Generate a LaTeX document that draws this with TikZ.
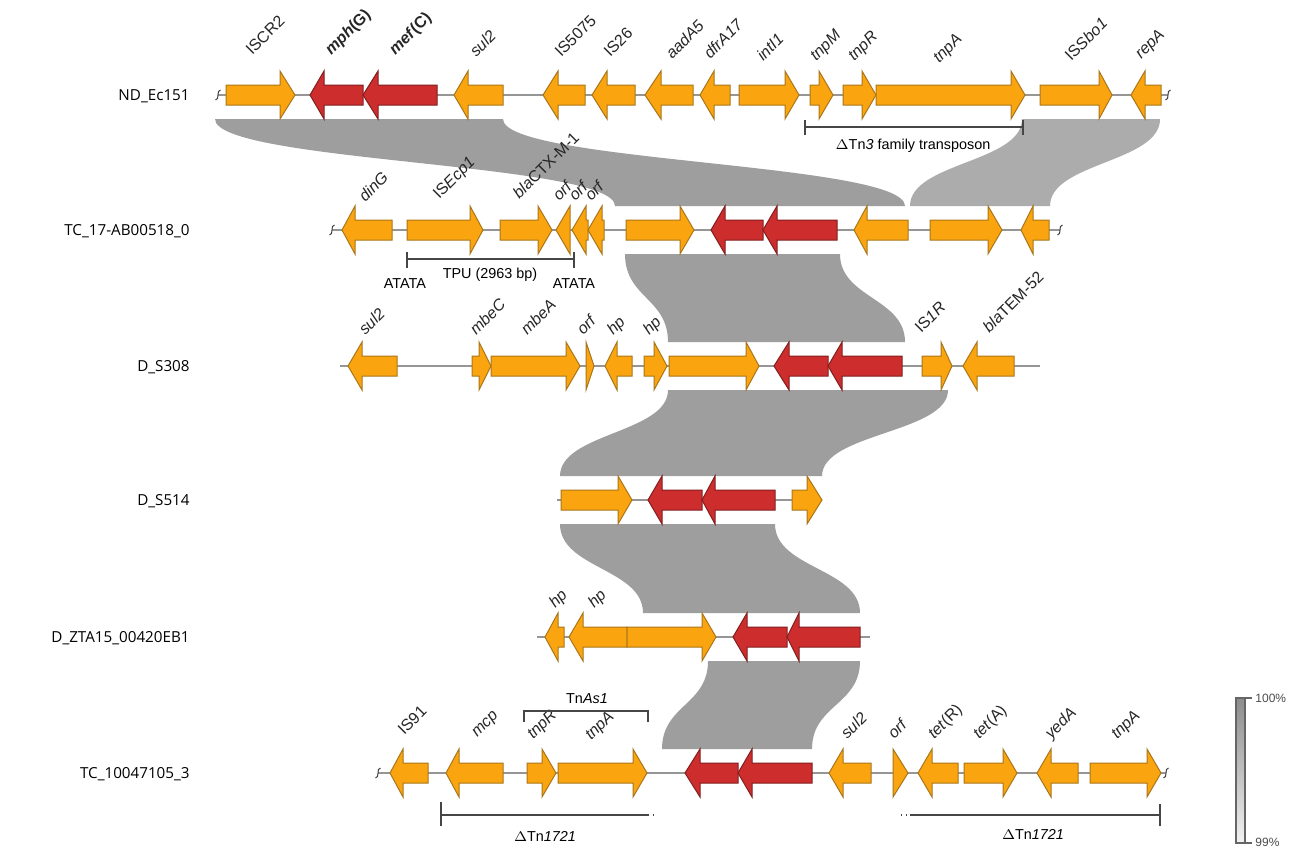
\documentclass[tikz,border=0pt]{standalone}
\usepackage{fontspec}
\setmainfont{Liberation Sans}
\newfontfamily\rowfont{Open Sans}
\definecolor{orng}{RGB}{250,165,15}
\definecolor{orngd}{RGB}{170,118,25}
\definecolor{rd}{RGB}{205,45,45}
\definecolor{rdd}{RGB}{130,30,30}
\definecolor{bandc}{RGB}{158,158,158}
\definecolor{bandl}{RGB}{172,172,172}
\definecolor{bb}{RGB}{150,150,150}
\definecolor{brk}{RGB}{70,70,70}
\newcommand{\gene}[5]{\draw[#1] (#2,#5-10) -- (#3,#5-10) -- (#3,#5-24) -- (#4,#5) -- (#3,#5+24) -- (#3,#5+10) -- (#2,#5+10) -- cycle;}
\newcommand{\gband}[7]{\fill[#1] (#2,#4) .. controls (#2,{(#4+#7)/2}) and (#5,{(#4+#7)/2}) .. (#5,#7) -- (#6,#7) .. controls (#6,{(#4+#7)/2}) and (#3,{(#4+#7)/2}) .. (#3,#4) -- cycle;}
\newcommand{\sq}[2]{\draw[black!75, line width=0.5pt] (#1-2.5,#2+5) .. controls (#1+2,#2+5) and (#1-2,#2-5) .. (#1+2.5,#2-5);}
\tikzset{
  og/.style={fill=orng, draw=orngd, line width=0.5pt, line join=miter},
  rg/.style={fill=rd, draw=rdd, line width=0.5pt, line join=miter},
  backbone/.style={draw=bb, line width=0.8pt},
  glabel/.style={rotate=45, anchor=base west, inner sep=0pt, text=black!85, font=\fontsize{8}{9}\selectfont},
  rowlab/.style={anchor=east, inner sep=0pt, font=\rowfont\fontsize{7.6}{9}\selectfont},
  brkt/.style={draw=brk, line width=0.6pt},
  btext/.style={inner sep=0pt, font=\fontsize{7.2}{8.5}\selectfont}
}
\begin{document}
\begin{tikzpicture}[x=0.5pt, y=-0.5pt]
\useasboundingbox (0,0) rectangle (1290,851);
\fill[white] (0,0) rectangle (1290,851);

% ---- bands ----
\gband{bandc}{215}{503}{119}{615}{905}{206}
\gband{bandl}{1022}{1160}{119}{910}{1050}{206}
\gband{bandc}{625}{840}{254}{668}{905}{342}
\gband{bandc}{668}{948}{390}{560}{822}{476}
\gband{bandc}{560}{775}{524}{643}{860}{613}
\gband{bandc}{708}{860}{661}{662}{812}{749}

% ---- row labels ----
\node[rowlab] (l1) at (190,96) {ND\_Ec151};
\node[rowlab] (l2) at (190,231) {TC\_17-AB00518\_0};
\node[rowlab] (l3) at (190,367) {D\_S308};
\node[rowlab] (l4) at (190,501) {D\_S514};
\node[rowlab] (l5) at (190,638) {D\_ZTA15\_00420EB1};
\node[rowlab] (l6) at (190,774) {TC\_10047105\_3};

% ---- row 1 ----
\draw[backbone] (218,95) -- (1168,95);
\sq{218}{95}\sq{1168}{95}
\gene{og}{226}{280}{295}{95}
\gene{rg}{363}{324}{310}{95}
\gene{rg}{437}{378}{363}{95}
\gene{og}{503}{468}{454}{95}
\gene{og}{585}{558}{543}{95}
\gene{og}{635}{607}{592}{95}
\gene{og}{693}{661}{645}{95}
\gene{og}{730}{714}{700}{95}
\gene{og}{739}{785}{799}{95}
\gene{og}{810}{819}{833}{95}
\gene{og}{843}{862}{876}{95}
\gene{og}{876}{1011}{1025}{95}
\gene{og}{1040}{1099}{1112}{95}
\gene{og}{1161}{1145}{1131}{95}
\node[glabel] (a1) at (252,56) {ISCR2};
\node[glabel] (a2) at (331,56) {\textbf{\textit{mph}(G)}};
\node[glabel] (a3) at (395,56) {\textbf{\textit{mef}(C)}};
\node[glabel] (a4) at (476,58) {\textit{sul2}};
\node[glabel] (a5) at (561,58) {IS5075};
\node[glabel] (a6) at (610,58) {IS26};
\node[glabel] (a7) at (672,60) {\textit{aadA5}};
\node[glabel] (a8) at (710,60) {\textit{dfrA17}};
\node[glabel] (a9) at (763,62) {\textit{intI1}};
\node[glabel] (a10) at (816,62) {\textit{tnpM}};
\node[glabel] (a11) at (854,62) {\textit{tnpR}};
\node[glabel] (a12) at (939,64) {\textit{tnpA}};
\node[glabel] (a13) at (1071,62) {IS\textit{Sbo1}};
\node[glabel] (a14) at (1141,60) {\textit{repA}};
\draw[brkt] (805,120) -- (805,135) (805,127) -- (1023,127) (1023,120) -- (1023,135);
\node[btext] (tn3) at (913,146) {$\Delta$Tn\textit{3} family transposon};

% ---- row 2 ----
\draw[backbone] (332,230) -- (1060,230);
\sq{332}{230}\sq{1060}{230}
\gene{og}{392}{355}{342}{230}
\gene{og}{407}{470}{483}{230}
\gene{og}{500}{538}{552}{230}
\gene{og}{570}{570}{556}{230}
\gene{og}{588}{586}{572}{230}
\gene{og}{604}{602}{588}{230}
\gene{og}{626}{680}{694}{230}
\gene{rg}{763}{725}{711}{230}
\gene{rg}{837}{777}{763}{230}
\gene{og}{908}{867}{854}{230}
\gene{og}{930}{988}{1002}{230}
\gene{og}{1049}{1033}{1021}{230}
\node[glabel] (b1) at (365,203) {\textit{dinG}};
\node[glabel] (b2) at (439,200) {IS\textit{Ecp1}};
\node[glabel] (b3) at (519,200) {\textit{bla}CTX-M-1};
\node[glabel] (b4) at (559,202) {\textit{orf}};
\node[glabel] (b5) at (575,202) {\textit{orf}};
\node[glabel] (b6) at (591,202) {\textit{orf}};
\draw[brkt] (407,252) -- (407,268) (407,259) -- (574,259) (574,252) -- (574,268);
\node[btext] (tpu) at (490,275) {TPU (2963 bp)};
\node[btext] (at1) at (405,284) {ATATA};
\node[btext] (at2) at (574,284) {ATATA};

% ---- row 3 ----
\draw[backbone] (340,366) -- (1040,366);
\gene{og}{397}{362}{348}{366}
\gene{og}{472}{479}{491}{366}
\gene{og}{491}{566}{580}{366}
\gene{og}{586}{586}{594}{366}
\gene{og}{632}{617}{605}{366}
\gene{og}{644}{654}{667}{366}
\gene{og}{669}{746}{759}{366}
\gene{rg}{828}{789}{774}{366}
\gene{rg}{902}{842}{828}{366}
\gene{og}{922}{941}{952}{366}
\gene{og}{1014}{977}{963}{366}
\node[glabel] (c1) at (365,336) {\textit{sul2}};
\node[glabel] (c2) at (476,336) {\textit{mbeC}};
\node[glabel] (c3) at (527,336) {\textit{mbeA}};
\node[glabel] (c4) at (583,336) {\textit{orf}};
\node[glabel] (c5) at (613,336) {\textit{hp}};
\node[glabel] (c6) at (649,336) {\textit{hp}};
\node[glabel] (c7) at (921,334) {IS\textit{1R}};
\node[glabel] (c8) at (989,334) {\textit{bla}TEM-52};

% ---- row 4 ----
\draw[backbone] (557,500) -- (822,500);
\gene{og}{561}{618}{632}{500}
\gene{rg}{702}{662}{648}{500}
\gene{rg}{775}{715}{702}{500}
\gene{og}{792}{807}{822}{500}

% ---- row 5 ----
\draw[backbone] (537,637) -- (870,637);
\gene{og}{564}{558}{545}{637}
\gene{og}{627}{583}{569}{637}
\gene{og}{627}{702}{716}{637}
\gene{rg}{787}{747}{733}{637}
\gene{rg}{860}{799}{787}{637}
\node[glabel] (d1) at (555,609) {\textit{hp}};
\node[glabel] (d2) at (594,609) {\textit{hp}};

% ---- row 6 ----
\draw[backbone] (378,773) -- (1166,773);
\sq{378}{773}\sq{1166}{773}
\gene{og}{428}{403}{390}{773}
\gene{og}{503}{459}{446}{773}
\gene{og}{527}{542}{556}{773}
\gene{og}{558}{633}{647}{773}
\gene{rg}{738}{700}{685}{773}
\gene{rg}{812}{752}{738}{773}
\gene{og}{871}{843}{829}{773}
\gene{og}{893}{893}{908}{773}
\gene{og}{958}{932}{918}{773}
\gene{og}{964}{1003}{1017}{773}
\gene{og}{1078}{1051}{1037}{773}
\gene{og}{1090}{1147}{1161}{773}
\node[glabel] (e1) at (404,736) {IS91};
\node[glabel] (e2) at (477,738) {\textit{mcp}};
\node[glabel] (e3) at (533,740) {\textit{tnpR}};
\node[glabel] (e4) at (591,741) {\textit{tnpA}};
\node[glabel] (e5) at (847,740) {\textit{sul2}};
\node[glabel] (e6) at (894,740) {\textit{orf}};
\node[glabel] (e7) at (934,740) {\textit{tet}(R)};
\node[glabel] (e8) at (979,740) {\textit{tet}(A)};
\node[glabel] (e9) at (1051,740) {\textit{yedA}};
\node[glabel] (e10) at (1117,740) {\textit{tnpA}};
\draw[brkt] (524,722) -- (524,711) -- (648,711) -- (648,722);
\node[btext] (tnas) at (587,699) {Tn\textit{As1}};
\draw[brkt] (441,802) -- (441,826) (441,815) -- (648,815);
\draw[brkt, dotted] (648,815) -- (658,815);
\node[btext] (tnl) at (545,836) {$\Delta$Tn\textit{1721}};
\draw[brkt, dotted] (901,815) -- (910,815);
\draw[brkt] (910,815) -- (1160,815) (1160,804) -- (1160,826);
\node[btext] (tnr) at (1033,834) {$\Delta$Tn\textit{1721}};

% ---- scale bar ----
\shade[top color=black!45, bottom color=black!5] (1236,698) rectangle (1245,843);
\draw[black!60, line width=0.6pt] (1236,698) rectangle (1245,843);
\draw[black!60, line width=0.6pt] (1236,698) -- (1252,698) (1236,843) -- (1252,843);
\node[anchor=west, inner sep=0pt, font=\fontsize{6}{7}\selectfont, text=black!70] (s1) at (1255,698) {100\%};
\node[anchor=west, inner sep=0pt, font=\fontsize{6}{7}\selectfont, text=black!70] (s2) at (1255,842) {99\%};
\end{tikzpicture}
\end{document}
